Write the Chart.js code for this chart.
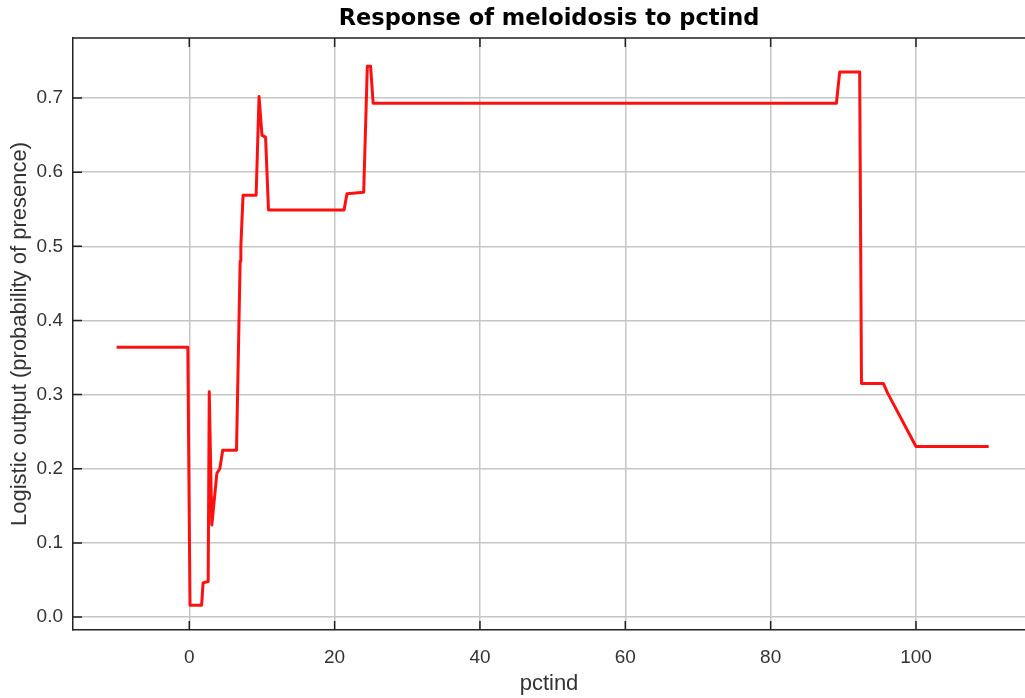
<!DOCTYPE html>
<html>
<head>
<meta charset="utf-8">
<script src="https://cdn.jsdelivr.net/npm/chart.js@4.4.1/dist/chart.umd.min.js"></script>
<style>
  html, body { margin: 0; padding: 0; background: #fff; }
  #wrap { width: 1025px; height: 698px; }
</style>
</head>
<body>
<div id="wrap"><canvas id="myChart"></canvas></div>
<script>
// Response curve
const pctind = [-10, -0.2, 0.1, 1.7, 1.9, 2.6, 2.75, 3.1, 3.8, 4.2, 4.6, 6.5, 7.0, 7.1, 7.4,
  9.2, 9.6, 10.0, 10.5, 10.9, 21.3, 21.7, 24.0, 24.5, 24.95, 25.3, 89.05, 89.5, 92.25,
  92.5, 95.5, 96.1, 100, 110];
const response = [0.364, 0.364, 0.016, 0.016, 0.046, 0.048, 0.304, 0.124, 0.194, 0.200, 0.225,
  0.225, 0.48, 0.50, 0.569, 0.569, 0.702, 0.650, 0.647, 0.549, 0.549, 0.571, 0.573, 0.743,
  0.743, 0.693, 0.693, 0.735, 0.735, 0.315, 0.315, 0.302, 0.230, 0.230];

// Tick labels
const xTicks = [0, 20, 40, 60, 80, 100];
const yTicks = [0, 0.1, 0.2, 0.3, 0.4, 0.5, 0.6, 0.7];

const points = pctind.map((x, i) => ({ x: x, y: response[i] }));

const tickFont = { family: "'Liberation Sans', Arial, sans-serif", size: 19 };
const titleFont = { family: "'Liberation Sans', Arial, sans-serif", size: 22 };

// top frame line and small inside tick marks
const frameTicks = {
  id: "frameTicks",
  afterDraw(chart) {
    const { ctx, chartArea: a, scales } = chart;
    ctx.save();
    ctx.strokeStyle = "#222";
    ctx.lineWidth = 1.5;
    ctx.beginPath();
    ctx.moveTo(a.left, a.top);
    ctx.lineTo(a.right, a.top);
    scales.x.ticks.forEach(t => {
      const px = scales.x.getPixelForValue(t.value);
      ctx.moveTo(px, a.bottom);
      ctx.lineTo(px, a.bottom - 9);
      ctx.moveTo(px, a.top);
      ctx.lineTo(px, a.top + 9);
    });
    scales.y.ticks.forEach(t => {
      const py = scales.y.getPixelForValue(t.value);
      ctx.moveTo(a.left, py);
      ctx.lineTo(a.left + 9, py);
    });
    ctx.stroke();
    ctx.restore();
  }
};

new Chart(document.getElementById("myChart"), {
  type: "line",
  data: {
    datasets: [{
      data: points,
      borderColor: "#ff1010",
      borderWidth: 3,
      borderJoinStyle: "round",
      pointRadius: 0,
      tension: 0,
      fill: false
    }]
  },
  options: {
    responsive: true,
    maintainAspectRatio: false,
    animation: false,
    layout: { padding: 0 },
    plugins: {
      legend: { display: false },
      tooltip: { enabled: false },
      title: {
        display: true,
        fullSize: false,
        text: "Response of meloidosis to pctind",
        color: "#000",
        font: { family: "'DejaVu Sans', sans-serif", size: 22.5, weight: "bold" },
        padding: { top: 5.5, bottom: 5.5 }
      }
    },
    scales: {
      x: {
        type: "linear",
        min: -16,
        max: 115,
        afterBuildTicks: s => { s.ticks = xTicks.map(v => ({ value: v })); },
        afterFit: s => { s.height = 68; },
        grid: { color: "#c6c6c6", lineWidth: 1.5, drawTicks: false },
        border: { color: "#222", width: 1.5 },
        ticks: { color: "#333", font: tickFont, padding: 16, maxRotation: 0 },
        title: { display: true, text: "pctind", color: "#333", font: titleFont, padding: { top: 0, bottom: 1 } }
      },
      y: {
        type: "linear",
        min: -0.0175,
        max: 0.781,
        afterBuildTicks: s => { s.ticks = yTicks.map(v => ({ value: v })); },
        afterFit: s => { s.width = 73; },
        grid: { color: "#c6c6c6", lineWidth: 1.5, drawTicks: false },
        border: { color: "#222", width: 1.5 },
        ticks: { color: "#333", font: tickFont, padding: 10, callback: v => v.toFixed(1) },
        title: {
          display: true,
          text: "Logistic output (probability of presence)",
          color: "#333",
          font: titleFont,
          padding: { top: 7, bottom: 0 }
        }
      }
    }
  },
  plugins: [frameTicks]
});
</script>
</body>
</html>
